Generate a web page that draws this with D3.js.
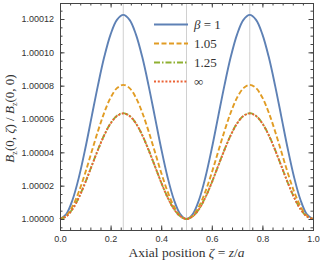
<!DOCTYPE html>
<html>
<head>
<meta charset="utf-8">
<script src="https://cdn.jsdelivr.net/npm/d3@7"></script>
<style>
  body { margin: 0; background: #fff; }
  svg { display: block; }
  .tick text { font-family: "Liberation Sans", Arial, sans-serif; font-size: 9px; fill: #333; }
  .lab { font-family: "Liberation Serif", "DejaVu Serif", serif; font-size: 12px; fill: #333; }
</style>
</head>
<body>
<svg id="chart" width="321" height="264"></svg>
<script>
// axial position zeta = z/a
let zeta = d3.range(41).map(i => i / 40)
// deviation from 1, in units of 1e-5
let beta1 = [0,0.30,1.17,2.52,4.23,6.13,8.02,9.73,11.08,11.95,12.25,11.95,11.08,9.73,8.02,6.13,4.23,2.52,1.17,0.30,0,
  0.30,1.17,2.52,4.23,6.13,8.02,9.73,11.08,11.95,12.25,11.95,11.08,9.73,8.02,6.13,4.23,2.52,1.17,0.30,0]
let beta105 = [0,0.20,0.77,1.66,2.78,4.03,5.27,6.39,7.28,7.85,8.05,7.85,7.28,6.39,5.27,4.03,2.78,1.66,0.77,0.20,0,
  0.20,0.77,1.66,2.78,4.03,5.27,6.39,7.28,7.85,8.05,7.85,7.28,6.39,5.27,4.03,2.78,1.66,0.77,0.20,0]
let beta125 = [0,0.16,0.61,1.31,2.19,3.18,4.16,5.04,5.74,6.19,6.35,6.19,5.74,5.04,4.16,3.18,2.19,1.31,0.61,0.16,0,
  0.16,0.61,1.31,2.19,3.18,4.16,5.04,5.74,6.19,6.35,6.19,5.74,5.04,4.16,3.18,2.19,1.31,0.61,0.16,0]
let betaInf = [0,0.16,0.60,1.30,2.19,3.17,4.14,5.03,5.73,6.18,6.33,6.18,5.73,5.03,4.14,3.17,2.19,1.30,0.60,0.16,0,
  0.16,0.60,1.30,2.19,3.17,4.14,5.03,5.73,6.18,6.33,6.18,5.73,5.03,4.14,3.17,2.19,1.30,0.60,0.16,0]
let legendLabels = ['= 1', '1.05', '1.25', '∞']
let xTicks = [0, 0.2, 0.4, 0.6, 0.8, 1.0]
let yTicks = [0, 2, 4, 6, 8, 10, 12]
let gridX = [0.25, 0.5, 0.75]

let series = [
  {vals: beta1, color: '#5e81b5', dash: null},
  {vals: beta105, color: '#e19c24', dash: '5,2.5'},
  {vals: beta125, color: '#8fb032', dash: '6,2,1.5,2'},
  {vals: betaInf, color: '#eb6235', dash: '2,1.8'}
]

let svg = d3.select('#chart')
let mLeft = 60, mRight = 313, mTop = 3, mBottom = 230

let x = d3.scaleLinear().domain([0, 1]).range([mLeft, mRight])
let y = d3.scaleLinear().domain([-0.66, 12.96]).range([mBottom, mTop])

// grid lines
svg.selectAll('.grid')
  .data(gridX)
  .enter()
  .append('line')
  .attr('x1', d => x(d)).attr('x2', d => x(d))
  .attr('y1', mTop).attr('y2', mBottom)
  .attr('stroke', '#d0d0d0').attr('stroke-width', 1)

// curves
let line = d3.line()
  .x((d, i) => x(zeta[i]))
  .y(d => y(d))
  .curve(d3.curveCatmullRom)

svg.selectAll('.curve')
  .data(series)
  .enter()
  .append('path')
  .attr('d', s => line(s.vals))
  .attr('fill', 'none')
  .attr('stroke', s => s.color)
  .attr('stroke-width', 1.9)
  .attr('stroke-dasharray', s => s.dash)

// frame axes, ticks inward
let xMinor = d3.range(0, 1.0001, 0.04)
let yMinor = d3.range(-0.5, 12.96, 0.5)

let addAxis = (axis, transform, labels) => {
  let g = svg.append('g').attr('transform', transform).call(axis)
  g.select('.domain').attr('stroke', '#444')
  g.selectAll('.tick line').attr('stroke', '#444')
  if (!labels) g.selectAll('.tick text').remove()
  return g
}

// minor ticks
addAxis(d3.axisBottom(x).tickValues(xMinor).tickSize(-2.5).tickFormat(''), `translate(0,${mBottom})`, false)
addAxis(d3.axisTop(x).tickValues(xMinor).tickSize(-2.5).tickFormat(''), `translate(0,${mTop})`, false)
addAxis(d3.axisLeft(y).tickValues(yMinor).tickSize(-2.5).tickFormat(''), `translate(${mLeft},0)`, false)
addAxis(d3.axisRight(y).tickValues(yMinor).tickSize(-2.5).tickFormat(''), `translate(${mRight},0)`, false)

// major ticks
addAxis(d3.axisBottom(x).tickValues(xTicks).tickSize(-4.5).tickPadding(6).tickFormat(d3.format('.1f')), `translate(0,${mBottom})`, true)
addAxis(d3.axisTop(x).tickValues(xTicks).tickSize(-4.5), `translate(0,${mTop})`, false)
addAxis(d3.axisLeft(y).tickValues(yTicks).tickSize(-4.5).tickPadding(6).tickFormat(d => (1 + d * 1e-5).toFixed(5)), `translate(${mLeft},0)`, true)
addAxis(d3.axisRight(y).tickValues(yTicks).tickSize(-4.5), `translate(${mRight},0)`, false)

// legend
let legend = svg.append('g')
series.forEach((s, i) => {
  let ly = 24.5 + i * 19
  legend.append('line')
    .attr('x1', 154).attr('x2', 188)
    .attr('y1', ly).attr('y2', ly)
    .attr('stroke', s.color).attr('stroke-width', 1.9)
    .attr('stroke-dasharray', s.dash)
  let t = legend.append('text')
    .attr('class', 'lab')
    .attr('x', 194).attr('y', ly + 4.5)
    .style('font-size', '13px')
  if (i === 0) t.append('tspan').style('font-style', 'italic').text('β ')
  t.append('tspan').text(legendLabels[i])
})

// axis labels
let ylab = svg.append('text')
  .attr('class', 'lab')
  .attr('transform', `translate(14,${(mTop + mBottom) / 2 + 2}) rotate(-90)`)
  .attr('text-anchor', 'middle')
  .style('font-size', '13px')
ylab.append('tspan').style('font-style', 'italic').text('B')
ylab.append('tspan').attr('dy', 3).style('font-size', '8px').text('z')
ylab.append('tspan').attr('dy', -3).text('(0, ')
ylab.append('tspan').style('font-style', 'italic').text('ζ')
ylab.append('tspan').text(') / ')
ylab.append('tspan').style('font-style', 'italic').text('B')
ylab.append('tspan').attr('dy', 3).style('font-size', '8px').text('z')
ylab.append('tspan').attr('dy', -3).text('(0, 0)')

let xlab = svg.append('text')
  .attr('class', 'lab')
  .attr('x', (mLeft + mRight) / 2).attr('y', 257)
  .attr('text-anchor', 'middle')
  .style('font-size', '13.5px')
xlab.append('tspan').text('Axial position ')
xlab.append('tspan').style('font-style', 'italic').text('ζ')
xlab.append('tspan').text(' = ')
xlab.append('tspan').style('font-style', 'italic').text('z')
xlab.append('tspan').text('/')
xlab.append('tspan').style('font-style', 'italic').text('a')
</script>
</body>
</html>
